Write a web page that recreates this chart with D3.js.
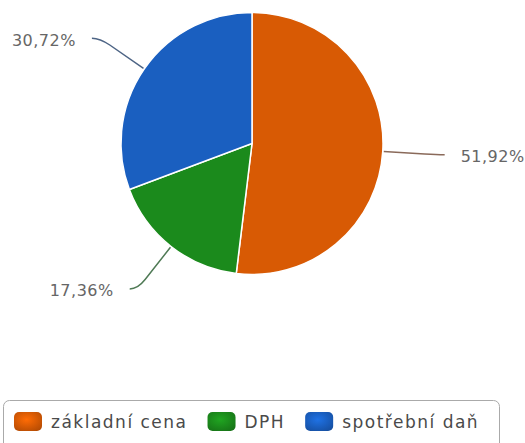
<!DOCTYPE html>
<html>
<head>
<meta charset="utf-8">
<script src="https://cdn.jsdelivr.net/npm/d3@7"></script>
<style>
  body { margin: 0; background: #fff; }
  svg { display: block; }
</style>
</head>
<body>
<div id="chart"></div>
<script>
// data
const categories = ['základní cena', 'DPH', 'spotřební daň'];
const shares = [51.92, 17.36, 30.72];
const labels = ['51,92%', '17,36%', '30,72%'];
const colors = ['#d85a04', '#1b8a1c', '#1a5fc0'];
const lineColors = ['#8a6a5a', '#4f7a55', '#4d6485'];

const width = 525, height = 443;
const cx = 252, cy = 143.5, radius = 131;

const svg = d3.select('#chart').append('svg')
  .attr('width', width)
  .attr('height', height);

const defs = svg.append('defs');
colors.forEach((c, i) => {
  const g = defs.append('radialGradient')
    .attr('id', 'sw' + i)
    .attr('cx', '45%').attr('cy', '40%').attr('r', '70%');
  g.append('stop').attr('offset', '0%').attr('stop-color', d3.color(c).brighter(0.5));
  g.append('stop').attr('offset', '100%').attr('stop-color', d3.color(c).darker(0.5));
});

const pie = d3.pie().sort(null).value(d => d);
const arcs = pie(shares);
const arc = d3.arc().innerRadius(0).outerRadius(radius);

const g = svg.append('g').attr('transform', `translate(${cx},${cy})`);

g.selectAll('path.slice')
  .data(arcs)
  .enter().append('path')
    .attr('class', 'slice')
    .attr('d', arc)
    .attr('fill', (d, i) => colors[i])
    .attr('stroke', '#fff')
    .attr('stroke-width', 1.5);

// leader lines + labels
const pt = (a, r) => [Math.sin(a) * r, -Math.cos(a) * r];

arcs.forEach((d, i) => {
  const a = (d.startAngle + d.endAngle) / 2;
  const side = Math.sin(a) >= 0 ? 1 : -1;
  const p1 = pt(a, radius + 1);
  const p2 = pt(a, radius + 42);
  const p3 = pt(a, radius + 54);
  const p4 = [p3[0] + side * 8, p3[1]];
  const path = d3.path();
  path.moveTo(p1[0], p1[1]);
  path.lineTo(p2[0], p2[1]);
  path.quadraticCurveTo(p3[0], p3[1], p4[0], p4[1]);
  g.append('path')
    .attr('d', path.toString())
    .attr('fill', 'none')
    .attr('stroke', lineColors[i])
    .attr('stroke-width', 1.5);

  g.append('text')
    .attr('x', p4[0] + side * 16)
    .attr('y', p4[1] + 2)
    .attr('dominant-baseline', 'central')
    .attr('text-anchor', side > 0 ? 'start' : 'end')
    .attr('font-family', 'DejaVu Sans, sans-serif')
    .attr('font-size', 16)
    .attr('letter-spacing', 0.5)
    .attr('fill', '#666')
    .text(labels[i]);
});

// legend
const legend = svg.append('g');
legend.append('rect')
  .attr('x', 3.5).attr('y', 400.5)
  .attr('width', 496).attr('height', 60)
  .attr('rx', 6)
  .attr('fill', '#fff')
  .attr('stroke', '#aaa')
  .attr('stroke-width', 1);

let lx = 14;
categories.forEach((c, i) => {
  const item = legend.append('g').attr('transform', `translate(${lx},412)`);
  item.append('rect')
    .attr('width', 28).attr('height', 19)
    .attr('rx', 5)
    .attr('fill', `url(#sw${i})`);
  const t = item.append('text')
    .attr('x', 37).attr('y', 10)
    .attr('dominant-baseline', 'central')
    .attr('font-family', 'DejaVu Sans, sans-serif')
    .attr('font-size', 17)
    .attr('letter-spacing', 1.5)
    .attr('fill', '#4a4a4a')
    .text(c);
  lx += 37 + t.node().getComputedTextLength() + 20;
});
</script>
</body>
</html>
